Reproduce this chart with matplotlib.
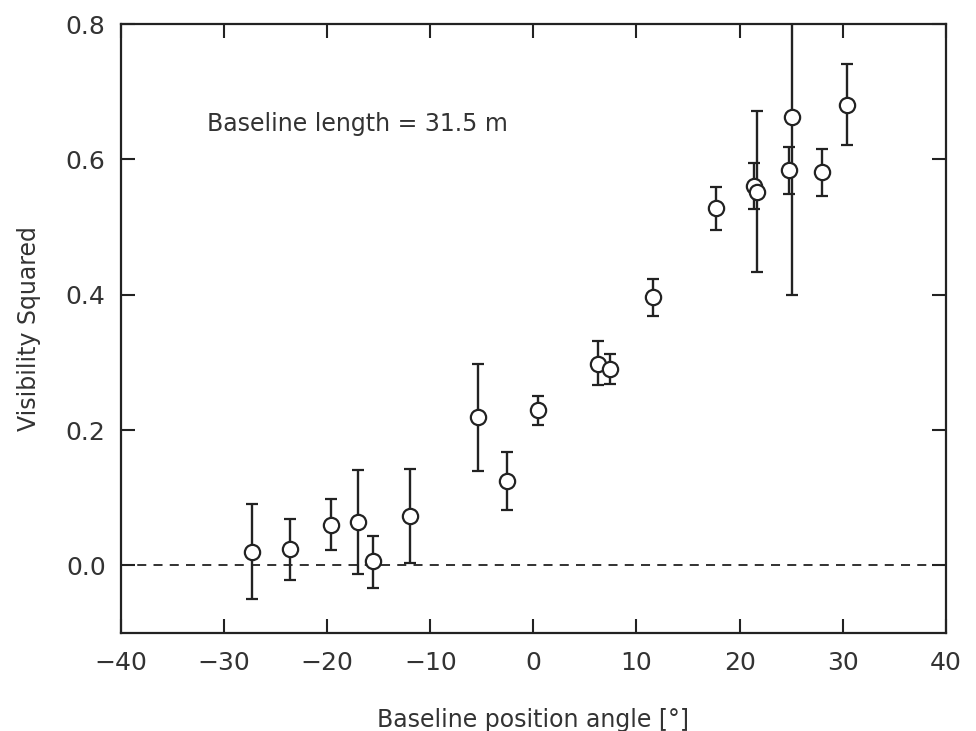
import matplotlib
matplotlib.use("Agg")
import matplotlib.pyplot as plt
import numpy as np

plt.rcParams['font.family'] = ['DejaVu Sans']

# baseline position angle (deg) and visibility squared, with error bar ends
angle = [-27.3, -23.6, -19.6, -17.0, -15.6, -12.0, -5.4, -2.6, 0.4, 6.3,
         7.4, 11.6, 17.7, 21.4, 21.7, 24.8, 25.1, 28.0, 30.4]
vis2 = [0.020, 0.024, 0.060, 0.064, 0.006, 0.073, 0.219, 0.125, 0.229, 0.298,
        0.290, 0.396, 0.528, 0.561, 0.552, 0.584, 0.662, 0.581, 0.681]
vis2_low = [-0.050, -0.021, 0.023, -0.012, -0.034, 0.003, 0.140, 0.082, 0.207, 0.266,
            0.268, 0.369, 0.496, 0.527, 0.434, 0.549, 0.399, 0.546, 0.621]
vis2_high = [0.090, 0.068, 0.098, 0.141, 0.044, 0.143, 0.298, 0.168, 0.251, 0.331,
             0.313, 0.423, 0.560, 0.594, 0.671, 0.619, 0.925, 0.616, 0.741]

x_ticks = [-40, -30, -20, -10, 0, 10, 20, 30, 40]
y_ticks = [0.0, 0.2, 0.4, 0.6, 0.8]

ink = '#222222'
txt = '#333333'

fig = plt.figure(figsize=(9.76, 7.31), dpi=100)
ax = fig.add_axes([0.124, 0.134, 0.845, 0.833])

y = np.array(vis2)
err = [y - np.array(vis2_low), np.array(vis2_high) - y]

# zero line
ax.axhline(0.0, color=ink, lw=1.3, ls=(0, (5, 4)), zorder=1)

ax.errorbar(angle, vis2, yerr=err, fmt='o', ms=11, mfc='white', mec=ink, mew=1.6,
            ecolor=ink, elinewidth=1.7, capsize=4.5, capthick=1.6, zorder=3)

ax.set_xlim(-40, 40)
ax.set_ylim(-0.1, 0.8)
ax.set_xticks(x_ticks)
ax.set_yticks(y_ticks)
ax.set_xticklabels([str(t).replace('-', '\u2212') for t in x_ticks])
ax.set_yticklabels(['%.1f' % t for t in y_ticks])
ax.tick_params(direction='in', length=10, width=1.5, top=True, right=True,
               labelsize=18, colors=ink, labelcolor=txt)
ax.tick_params(axis='x', pad=13)
ax.tick_params(axis='y', pad=11)
for s in ax.spines.values():
    s.set_linewidth(1.6)
    s.set_color(ink)

ax.set_xlabel('Baseline position angle [°]', fontsize=17, color=txt, labelpad=24)
ax.set_ylabel('Visibility Squared', fontsize=17, color=txt, labelpad=18)

ax.text(-31.7, 0.652, 'Baseline length = 31.5 m', fontsize=17, color=txt,
        ha='left', va='center')

fig.savefig('out.png', dpi=100)
